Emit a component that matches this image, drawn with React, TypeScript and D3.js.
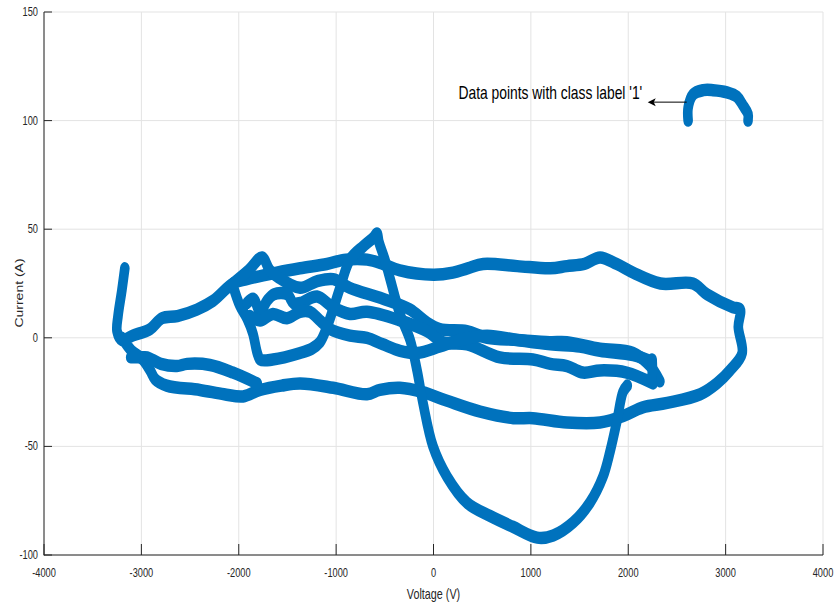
import React from 'react';
import * as d3 from 'd3';

type Pt = [number, number];

// axis ticks
const xTicks = [-4000, -3000, -2000, -1000, 0, 1000, 2000, 3000, 4000];
const yTicks = [-100, -50, 0, 50, 100, 150];

// traces (voltage V, current A)
const outerLoop: Pt[] = [
  [-3170, 32], [-3200, 22], [-3240, 10], [-3250, 3], [-3200, -1], [-3090, 1], [-2910, 4],
  [-2790, 9], [-2630, 10], [-2430, 13], [-2265, 17], [-2060, 25], [-1915, 27], [-1610, 30],
  [-1370, 32], [-1095, 34], [-900, 36], [-680, 36], [-520, 34], [-345, 31], [0, 29], [200, 30],
  [350, 32], [510, 34], [860, 33], [1200, 32], [1370, 33], [1550, 34], [1710, 37], [1880, 34],
  [2050, 30], [2330, 25], [2665, 25], [2810, 20], [3075, 14], [3150, 13], [3130, 5], [3170, -7],
  [3045, -15], [2910, -21], [2740, -26], [2400, -30], [2150, -32], [1950, -36], [1710, -39],
  [1370, -39], [1020, -37], [820, -37], [480, -34], [140, -29], [-110, -25], [-345, -23],
  [-550, -24], [-683, -26], [-1030, -23], [-1370, -21], [-1560, -22], [-1780, -24], [-1955, -27],
  [-2150, -26], [-2400, -24], [-2740, -22], [-2860, -19], [-2910, -15], [-2985, -10],
  [-3100, -6], [-3200, 0],
];
const leftStrand: Pt[] = [
  [-3110, -9], [-3000, -9], [-2940, -9], [-2800, -12], [-2635, -13], [-2530, -12],
  [-2295, -12.5], [-2060, -16], [-1810, -21],
];
const bigSwing: Pt[] = [
  [-2060, 24], [-1990, 15], [-1915, 9], [-1855, 2], [-1810, -7], [-1780, -10], [-1650, -10],
  [-1370, -7], [-1250, -5], [-1166, -2], [-1094, 5], [-1032, 13], [-960, 23], [-858, 36],
  [-724, 42], [-620, 46], [-580, 48], [-560, 44], [-500, 36], [-445, 27], [-345, 11], [-240, -1],
  [-169, -15], [-108, -30], [-5, -50], [140, -64], [345, -76], [580, -82], [815, -87],
  [1065, -92], [1230, -91], [1435, -85], [1605, -76], [1740, -64], [1815, -52], [1885, -38],
  [1945, -25], [1990, -22],
];
const peakStrand: Pt[] = [
  [-2060, 25], [-1900, 31], [-1760, 37], [-1680, 31], [-1600, 28], [-1370, 23], [-1200, 26],
  [-1030, 27], [-860, 23], [-520, 18], [-240, 13], [-65, 7], [65, 4], [345, 3], [550, 0],
  [860, -1], [1195, -2], [1370, -2], [1710, -5], [2050, -7], [2225, -13], [2325, -20],
];
const wavyStrand: Pt[] = [
  [-1915, 16], [-1850, 18], [-1780, 12], [-1710, 17], [-1640, 20], [-1500, 20], [-1440, 16],
  [-1370, 16], [-1195, 19], [-1032, 14], [-858, 11], [-683, 12], [-344, 8], [-67, 3], [98, -2],
  [344, -3], [683, -9], [1022, -10], [1200, -12], [1371, -13], [1535, -16], [1710, -15],
  [1985, -16], [2255, -21],
];
const lowerStrand: Pt[] = [
  [-1885, 10], [-1780, 8], [-1650, 11], [-1505, 9], [-1370, 12], [-1270, 12], [-1166, 8],
  [-1063, 4], [-858, 1], [-683, 0], [-519, -3], [-344, -6], [-169, -7], [67, -4], [272, -1],
  [550, 1], [860, -1], [1200, -3], [1500, -4], [1710, -6], [2050, -8], [2245, -11],
];
const smallSpike: Pt[] = [[2245, -10], [2248, -15], [2240, -19]];
const classOne: Pt[] = [
  [2615, 100], [2615, 106], [2665, 112], [2770, 114], [2870, 114], [3014, 113], [3117, 111],
  [3178, 107], [3230, 103], [3230, 100],
];

const traces = [outerLoop, leftStrand, bigSwing, peakStrand, wavyStrand, lowerStrand, smallSpike, classOne];

const note = "Data points with class label '1'";
const noteAt: Pt = [256, 110];
const arrowFrom: Pt = [2600, 108.5];
const arrowTo: Pt = [2200, 108.5];

const W = 835;
const H = 606;
const squeeze = 0.77; // the original figure is narrowed horizontally
const ink = '#262626';
const font = 'Liberation Sans, Arial, sans-serif';

function Txt({ x, y, size, anchor = 'middle', rotate = false, fill = ink, children }: any) {
  return (
    <text
      transform={`translate(${x},${y}) scale(${squeeze},1)${rotate ? ' rotate(-90)' : ''}`}
      fontSize={size} fontFamily={font} textAnchor={anchor} fill={fill}>
      {children}
    </text>
  );
}

export default function App() {
  const x = d3.scaleLinear().domain([-4000, 4000]).range([44, 823]);
  const y = d3.scaleLinear().domain([-100, 150]).range([555, 12]);

  const line = d3.line<Pt>()
    .x(d => x(d[0]) / squeeze)
    .y(d => y(d[1]))
    .curve(d3.curveCatmullRom.alpha(0.5));

  const [x0, x1] = x.range();
  const [y0, y1] = y.range();

  return (
    <svg width={W} height={H} style={{ position: 'absolute', left: 0, top: 0, background: '#fff' }}>
      <g stroke="#e3e3e3" strokeWidth={1}>
        {xTicks.map(t => <line key={'gx' + t} x1={x(t)} x2={x(t)} y1={y1} y2={y0} />)}
        {yTicks.map(t => <line key={'gy' + t} x1={x0} x2={x1} y1={y(t)} y2={y(t)} />)}
      </g>

      <g transform={`scale(${squeeze},1)`} fill="none" stroke="#0072BD" strokeWidth={12.5}
        strokeLinecap="round" strokeLinejoin="round">
        {traces.map((tr, i) => <path key={i} d={line(tr) || ''} />)}
      </g>

      <g stroke={ink} strokeWidth={1}>
        <line x1={x0} x2={x0} y1={y1} y2={y0 + 0.5} />
        <line x1={x0} x2={x1} y1={y0} y2={y0} />
        {xTicks.map(t => <line key={'tx' + t} x1={x(t)} x2={x(t)} y1={y0} y2={y0 - 11} />)}
        {yTicks.map(t => <line key={'ty' + t} x1={x0} x2={x0 + 8} y1={y(t)} y2={y(t)} />)}
      </g>

      {xTicks.map(t => <Txt key={'lx' + t} x={x(t)} y={y0 + 22} size={12}>{t}</Txt>)}
      {yTicks.map(t => <Txt key={'ly' + t} x={38} y={y(t) + 4} size={12} anchor="end">{t}</Txt>)}

      <Txt x={(x0 + x1) / 2} y={599} size={14}>Voltage (V)</Txt>
      <Txt x={23} y={293} size={14} rotate>Current (A)</Txt>

      <Txt x={x(noteAt[0])} y={y(noteAt[1])} size={18} anchor="start" fill="#000">{note}</Txt>
      <line x1={x(arrowFrom[0])} x2={x(arrowTo[0]) + 6} y1={y(arrowFrom[1])} y2={y(arrowTo[1])}
        stroke="#000" strokeWidth={1} />
      <path d={`M${x(arrowTo[0])},${y(arrowTo[1])} l8,-4 l-2,4 l2,4 z`} fill="#000" />
    </svg>
  );
}
